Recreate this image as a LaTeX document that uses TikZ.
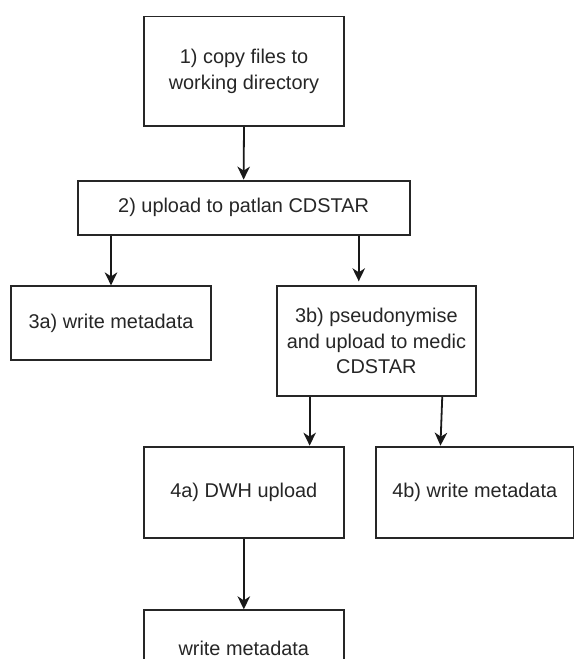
\documentclass[tikz,border=0pt]{standalone}
\usepackage{fontspec}
\setmainfont{Liberation Sans}
\usetikzlibrary{arrows.meta,calc}
\begin{document}
\begin{tikzpicture}[x=1pt,y=-1pt,
  box/.style={draw=black!85,line width=1.9pt,rectangle,align=center,inner sep=0pt,
    font=\fontsize{19.9}{25.5}\selectfont,text=black!85},
  conn/.style={draw=black!90,line width=1.8pt,-{Stealth[length=13pt,width=12.5pt,inset=4pt]}}]
\useasboundingbox (0,0) rectangle (574,659);
\clip (0,0) rectangle (574,659);
\fill[white] (0,0) rectangle (574,659);
\node[box,minimum width=200pt,minimum height=109.5pt] (b1) at (244,71.25) {1) copy files to\\working directory};
\node[box,minimum width=332pt,minimum height=54.5pt] (b2) at (243.6,207.8) {2) upload to patlan CDSTAR};
\node[box,minimum width=200pt,minimum height=73.3pt] (b3a) at (111,323) {3a) write metadata};
\node[box,minimum width=199.6pt,minimum height=109.5pt] (b3b) at (376.4,341) {3b) pseudonymise\\and upload to medic\\CDSTAR};
\node[box,minimum width=199.6pt,minimum height=91.2pt] (b4a) at (243.8,492.2) {4a) DWH upload};
\node[box,minimum width=197.5pt,minimum height=91.2pt] (b4b) at (474.75,492.2) {4b) write metadata};
\node[box,minimum width=199.6pt,minimum height=77pt] (b5) at (243.8,648.8) {write metadata};
\draw[conn] (b1.south) -- (b2.north);
\draw[conn] (b2.south -| b3a.north) -- (b3a.north);
\draw[conn,shorten >=4pt] ($(b2.south west)+(282.1,0)$) coordinate (s2b) -- (s2b |- b3b.north);
\draw[conn] ($(b3b.south west)+(34,0)$) coordinate (s3a) -- (s3a |- b4a.north);
\draw[conn] ($(b3b.south west)+(166.6,0)$) -- ($(b4b.north west)+(65.4,0)$);
\draw[conn] (b4a.south) -- (b5.north);
\end{tikzpicture}
\end{document}
